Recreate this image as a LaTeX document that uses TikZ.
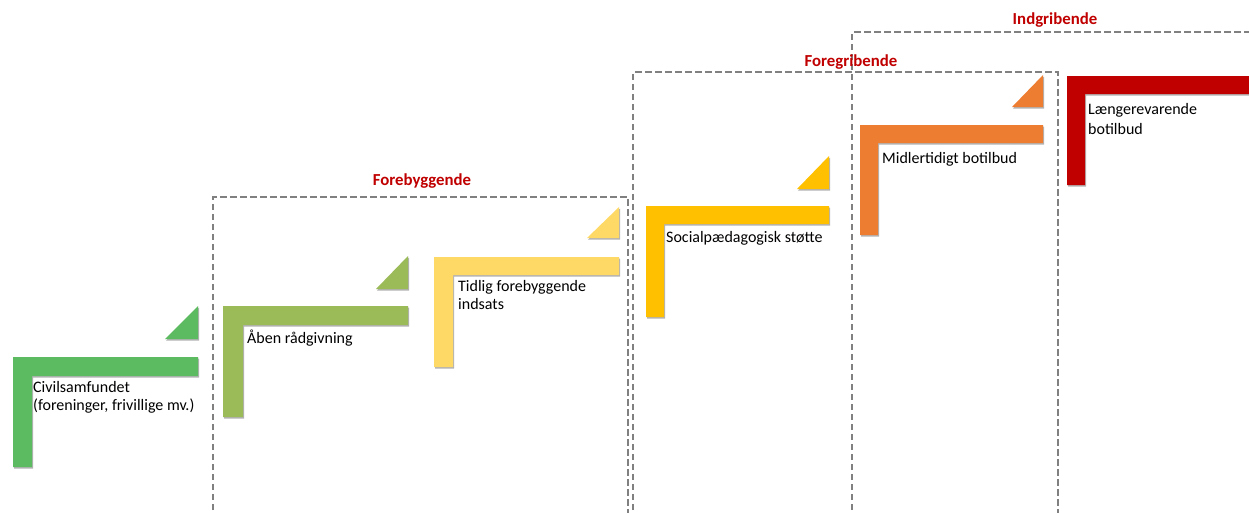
\documentclass[tikz,border=0pt]{standalone}
\usepackage{fontspec}
\setmainfont{Carlito}
\usetikzlibrary{shadows}
\definecolor{cGreen}{RGB}{92,187,96}
\definecolor{cOlive}{RGB}{155,187,89}
\definecolor{cLYellow}{RGB}{255,217,102}
\definecolor{cGold}{RGB}{255,192,0}
\definecolor{cOrange}{RGB}{237,125,49}
\definecolor{cRed}{RGB}{192,0,0}
\definecolor{cDash}{RGB}{128,128,128}
\definecolor{cHead}{RGB}{192,0,0}
\tikzset{
  stair/.style={draw=none, drop shadow={shadow xshift=1pt, shadow yshift=-1.5pt, opacity=0.3, fill=black}},
  zone/.style={draw=cDash, line width=2.5pt, dash pattern=on 6.5pt off 3.5pt},
  head/.style={font=\fontsize{16.8}{20}\selectfont\bfseries, text=cHead, inner sep=0pt, anchor=base},
  lbl/.style={font=\fontsize{16}{18}\selectfont, align=left, inner sep=0pt, anchor=base west}
}
\begin{document}
\begin{tikzpicture}[x=1pt,y=-1pt]
\useasboundingbox (0,0) rectangle (1249,512);
\clip (0,0) rectangle (1249,512);
% zones
\draw[zone] (213,520) -- (213,197) -- (628,197) -- (628,520);
\draw[zone] (633,520) -- (633,72) -- (1058,72) -- (1058,520);
\draw[zone] (852,520) -- (852,32) -- (1260,32);
\node[head] (h1) at (422,185) {Forebyggende};
\node[head] (h2) at (851,66) {Foregribende};
\node[head] (h3) at (1055,24) {Indgribende};
% steps
\fill[cGreen,stair] (13,357) -- (198,357) -- (198,376) -- (32,376) -- (32,467) -- (13,467) -- cycle;
\fill[cGreen,stair] (165,339) -- (198,339) -- (198,306) -- cycle;
\node[lbl] (t1) at (33,410) {Civilsamfundet\\(foreninger, frivillige mv.)};

\fill[cOlive,stair] (223,306) -- (408,306) -- (408,325) -- (243,325) -- (243,417) -- (223,417) -- cycle;
\fill[cOlive,stair] (376,289) -- (408,289) -- (408,256) -- cycle;
\node[lbl] (t2) at (247,343) {Åben rådgivning};

\fill[cLYellow,stair] (434,257) -- (619,257) -- (619,275) -- (453,275) -- (453,367) -- (434,367) -- cycle;
\fill[cLYellow,stair] (587,238) -- (619,238) -- (619,207) -- cycle;
\node[lbl, font=\fontsize{16}{17.3}\selectfont] (t3) at (458,309) {Tidlig forebyggende\\indsats};

\fill[cGold,stair] (646,206) -- (829,206) -- (829,224) -- (664,224) -- (664,317) -- (646,317) -- cycle;
\fill[cGold,stair] (797,189) -- (829,189) -- (829,156) -- cycle;
\node[lbl] (t4) at (666,242) {Socialpædagogisk støtte};

\fill[cOrange,stair] (860,125) -- (1043,125) -- (1043,143) -- (878,143) -- (878,235) -- (860,235) -- cycle;
\fill[cOrange,stair] (1012,107) -- (1043,107) -- (1043,75) -- cycle;
\node[lbl] (t5) at (882,163) {Midlertidigt botilbud};

\fill[cRed,stair] (1067,76) -- (1260,76) -- (1260,94) -- (1085,94) -- (1085,185) -- (1067,185) -- cycle;
\node[lbl, font=\fontsize{16}{20}\selectfont] (t6) at (1088,134) {Længerevarende\\botilbud};
\end{tikzpicture}
\end{document}
